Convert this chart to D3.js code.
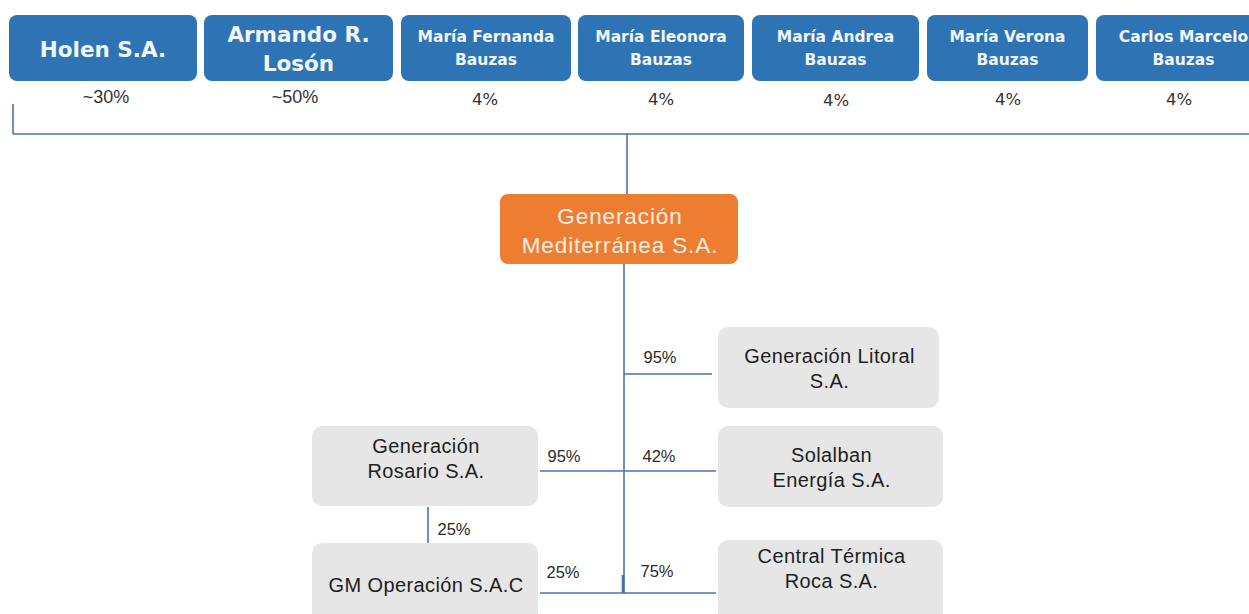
<!DOCTYPE html>
<html><head><meta charset="utf-8">
<script src="https://cdn.jsdelivr.net/npm/d3@7"></script>
<style>html,body{margin:0;padding:0;background:#fff;}svg{display:block;}</style>
</head><body>
<svg id="c" width="1249" height="614"></svg>
<script>
// ---- data ----
const shareholders = ["Holen S.A.", "Armando R.|Losón", "María Fernanda|Bauzas", "María Eleonora|Bauzas", "María Andrea|Bauzas", "María Verona|Bauzas", "Carlos Marcelo|Bauzas"];
const shareholderPct = ["~30%", "~50%", "4%", "4%", "4%", "4%", "4%"];
const parentCompany = "Generación|Mediterránea S.A.";
const subsidiaries = ["Generación Litoral|S.A.", "Solalban|Energía S.A.", "Central Térmica|Roca S.A.", "Generación|Rosario S.A.", "GM Operación S.A.C"];
const directPct = ["95%", "42%", "75%", "95%", "25%"];
const rosarioToGMPct = "25%";

// ---- layout ----
const svg = d3.select("#c");
const LINE = "#4d6fae";
const BLUE = "#2e74b5";
const ORANGE = "#ed7d31";
const GREY = "#e6e6e6";

const topLeft = d3.scaleOrdinal(shareholders, [9, 204, 401, 578, 752, 927, 1096]);
const topWidth = d3.scaleOrdinal(shareholders, [188, 189, 170, 166, 167, 161, 175]);
const pctX = d3.scaleOrdinal(shareholders, [106, 295, 485, 661, 836, 1008, 1179]);
const pctY = d3.scaleOrdinal(shareholders, [97, 97, 99, 99, 100, 99, 99]);
const topY = 15, topH = 66;

// connectors
const lines = [
  [13, 104, 13, 134], [13, 134, 1249, 134],
  [627, 134, 627, 194],
  [624, 264, 624, 593],
  [624, 374, 712, 374],
  [540, 471, 716, 471],
  [540, 593, 716, 593],
  [428, 507, 428, 543]
];
svg.selectAll("line.c").data(lines).join("line")
  .attr("x1", d => d[0]).attr("y1", d => d[1]).attr("x2", d => d[2]).attr("y2", d => d[3])
  .attr("stroke", LINE).attr("stroke-width", 1.6);
svg.append("line").attr("x1", 623).attr("x2", 623).attr("y1", 575).attr("y2", 593)
  .attr("stroke", LINE).attr("stroke-width", 2.6);

// top boxes
const tg = svg.selectAll("g.sh").data(shareholders).join("g")
  .attr("transform", d => `translate(${topLeft(d)},${topY})`);
tg.append("rect").attr("width", d => topWidth(d)).attr("height", topH).attr("rx", 8)
  .attr("fill", BLUE);
tg.each(function(d, i) {
  const g = d3.select(this);
  const parts = d.split("|");
  const big = i < 2;
  const fs = big ? 21.5 : 15.5;
  const lh = big ? 29 : 23;
  const cy = topH / 2 + (big ? 1 : 0);
  const t = g.append("text").attr("text-anchor", "middle")
    .attr("font-family", "DejaVu Sans, Verdana, sans-serif").attr("font-weight", "bold")
    .attr("font-size", fs).attr("fill", "#f2f6fb");
  parts.forEach((p, k) => {
    t.append("tspan").attr("x", topWidth(d) / 2)
      .attr("y", cy + (k - (parts.length - 1) / 2) * lh)
      .attr("dy", "0.36em").text(p);
  });
});

// shareholder percentages
svg.selectAll("text.shp").data(shareholders).join("text")
  .attr("x", d => pctX(d)).attr("y", d => pctY(d))
  .attr("dy", "0.36em").attr("text-anchor", "middle")
  .attr("font-family", (d, i) => i < 2 ? "Liberation Sans, Arial, sans-serif" : "DejaVu Sans, Verdana, sans-serif")
  .attr("font-size", (d, i) => i < 2 ? 18 : 16.5).attr("fill", "#333")
  .text((d, i) => shareholderPct[i]);

// parent
const pg = svg.append("g").attr("transform", "translate(500,194)");
pg.append("rect").attr("width", 238).attr("height", 70).attr("rx", 8).attr("fill", ORANGE);
const pt = pg.append("text").attr("text-anchor", "middle")
  .attr("font-family", "Liberation Sans, Arial, sans-serif").attr("font-size", 22.5)
  .attr("letter-spacing", 0.9).attr("fill", "#fbeee4");
parentCompany.split("|").forEach((p, k) => {
  pt.append("tspan").attr("x", 120).attr("y", 22 + k * 29).attr("dy", "0.36em").text(p);
});

// subsidiaries
const subBox = d3.scaleOrdinal(subsidiaries, [
  [718, 327, 221, 81], [718, 426, 225, 81], [718, 540, 225, 90], [312, 426, 226, 80], [312, 543, 226, 90]
]);
const subTextY = d3.scaleOrdinal(subsidiaries, [[29, 54], [29, 54], [16, 41], [20, 45], [42]]);
const sg = svg.selectAll("g.sub").data(subsidiaries).join("g")
  .attr("transform", d => `translate(${subBox(d)[0]},${subBox(d)[1]})`);
sg.append("rect").attr("width", d => subBox(d)[2]).attr("height", d => subBox(d)[3]).attr("rx", 10).attr("fill", GREY);
sg.each(function(d) {
  const t = d3.select(this).append("text").attr("text-anchor", "middle")
    .attr("font-family", "Liberation Sans, Arial, sans-serif").attr("font-size", 20)
    .attr("letter-spacing", 0.4).attr("fill", "#1e1e1e");
  d.split("|").forEach((p, k) => {
    t.append("tspan").attr("x", subBox(d)[2] / 2 + 1).attr("y", subTextY(d)[k]).attr("dy", "0.36em").text(p);
  });
});

// percent labels on connectors
const pctPos = [[660, 357], [659, 456], [657, 571], [564, 456], [563, 572]];
const labels = directPct.map((p, i) => ({ t: p, x: pctPos[i][0], y: pctPos[i][1] }));
labels.push({ t: rosarioToGMPct, x: 454, y: 529 });
svg.selectAll("text.pct").data(labels).join("text")
  .attr("x", d => d.x).attr("y", d => d.y).attr("dy", "0.36em").attr("text-anchor", "middle")
  .attr("font-family", "Liberation Sans, Arial, sans-serif").attr("font-size", 16.5).attr("fill", "#2a2a2a")
  .text(d => d.t);
</script>
</body></html>
